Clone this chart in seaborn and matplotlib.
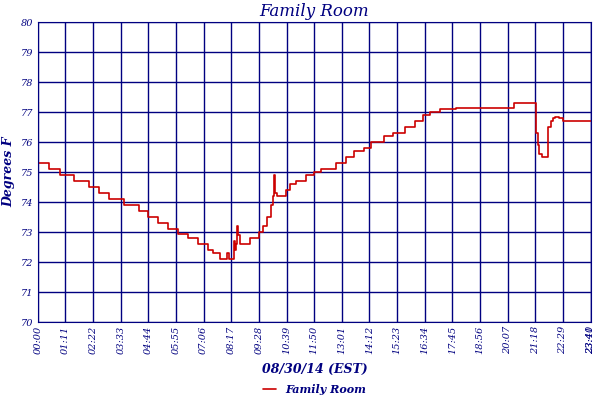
import numpy as np
import pandas as pd
import seaborn as sns
import matplotlib.pyplot as plt

# minutes since midnight, temperature in F
minutes = [0, 30, 56, 94, 132, 157, 183, 221, 259, 284, 309, 335, 360, 385, 411, 436, 449, 467,
           487, 492, 500, 505, 507, 510, 512, 515, 520, 533, 545, 568, 578, 588, 598, 604, 606,
           609, 614, 619, 637, 647, 664, 690, 710, 728, 766, 791, 811, 837, 855, 888, 913, 943,
           969, 989, 1007, 1032, 1075, 1222, 1255, 1281, 1286, 1288, 1296, 1311, 1319, 1324,
           1329, 1339, 1349, 1375, 1400, 1421]
temps = [75.3, 75.1, 74.9, 74.7, 74.5, 74.3, 74.1, 73.9, 73.7, 73.5, 73.3, 73.1, 72.95, 72.8,
         72.6, 72.4, 72.3, 72.1, 72.3, 72.1, 72.1, 72.7, 72.4, 72.6, 73.2, 72.9, 72.6, 72.6,
         72.8, 73.0, 73.2, 73.5, 73.9, 74.2, 74.9, 74.3, 74.2, 74.2, 74.4, 74.6, 74.7, 74.9,
         75.0, 75.1, 75.3, 75.5, 75.7, 75.8, 76.0, 76.2, 76.3, 76.5, 76.7, 76.9, 77.0, 77.1,
         77.15, 77.3, 77.3, 76.3, 75.9, 75.6, 75.5, 76.5, 76.7, 76.8, 76.85, 76.8, 76.7, 76.7,
         76.7, 76.7]
tick_labels = ["00:00", "01:11", "02:22", "03:33", "04:44", "05:55", "07:06", "08:17", "09:28",
               "10:39", "11:50", "13:01", "14:12", "15:23", "16:34", "17:45", "18:56", "20:07",
               "21:18", "22:29", "23:40", "23:41"]
tick_pos = [71 * i for i in range(21)] + [1421]

df = pd.DataFrame({"t": minutes, "temp": temps})
navy = "#000080"

sns.set_style("white")
plt.rcParams['font.family'] = ['DejaVu Serif']
fig, ax = plt.subplots(figsize=(6, 4), dpi=100)
fig.subplots_adjust(left=0.063, right=0.985, top=0.945, bottom=0.195)

sns.lineplot(data=df, x="t", y="temp", ax=ax, color="#cc0000", lw=1.2,
             drawstyle="steps-post", label="Family Room")

ax.set_xlim(0, 1421)
ax.set_ylim(70, 80)
ax.set_yticks(range(70, 81))
ax.set_xticks(tick_pos)
ax.set_xticklabels(tick_labels, rotation=90, fontsize=7, style="italic", color=navy)
ax.tick_params(axis="y", labelsize=7, labelcolor=navy, length=0)
ax.tick_params(axis="x", length=0, pad=3)
for lbl in ax.get_yticklabels():
    lbl.set_style("italic")
ax.grid(True, color=navy, lw=1)
for s in ax.spines.values():
    s.set_color(navy)

ax.set_title("Family Room", fontsize=12, style="italic", color=navy, pad=4)
ax.set_ylabel("Degrees F", fontsize=9, style="italic", fontweight="bold", color=navy, labelpad=4)
ax.set_xlabel("08/30/14 (EST)", fontsize=9, style="italic", fontweight="bold", color=navy, labelpad=6)

ax.legend(loc="center", bbox_to_anchor=(0.5, -0.225), frameon=False,
          handlelength=1.2, prop={"style": "italic", "weight": "bold", "size": 8},
          labelcolor=navy, borderpad=0.1)

plt.savefig("out.png", dpi=100)
